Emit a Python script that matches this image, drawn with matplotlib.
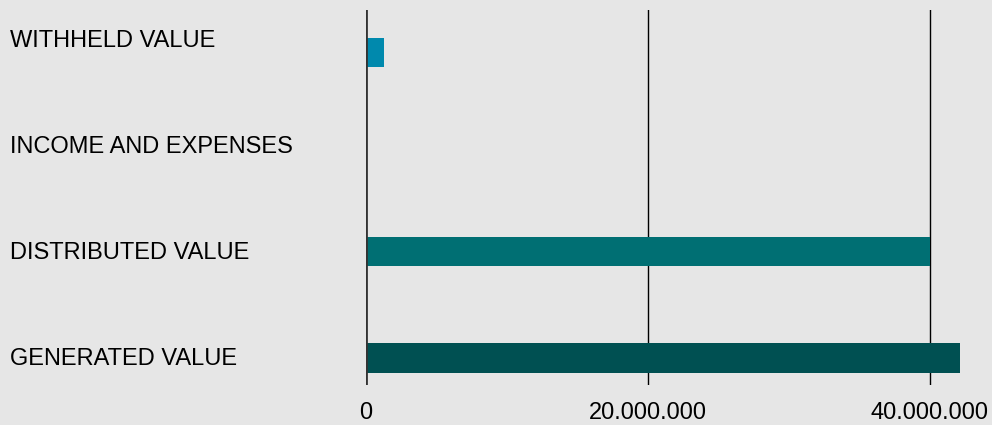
import matplotlib
matplotlib.use("Agg")
import matplotlib.pyplot as plt
from matplotlib.ticker import FuncFormatter

# Values (bottom to top)
categories = ["GENERATED VALUE", "DISTRIBUTED VALUE", "INCOME AND EXPENSES", "WITHHELD VALUE"]
values = [42.1e6, 40.0e6, 0, 1.3e6]
colors = ["#005052", "#006f73", "#006f73", "#0089ad"]
xticks = [0, 20e6, 40e6]

plt.rcParams["font.family"] = ["Liberation Sans", "DejaVu Sans"]

fig = plt.figure(figsize=(9.92, 4.25), dpi=100, facecolor="#e6e6e6")
ax = fig.add_axes([366 / 992, 40 / 425, (962.4 - 366) / 992, 375 / 425])
ax.set_facecolor("#e6e6e6")

pos = list(range(len(categories)))
# the withheld bar sits a little below its label in the original
offsets = [-0.01, -0.01, 0, -0.13]
ax.barh([p + o for p, o in zip(pos, offsets)], values, height=0.275,
        color=colors, zorder=2)

ax.set_xlim(0, 42.3e6)
ax.set_ylim(-0.264, 3.267)

ax.set_xticks(xticks)
ax.xaxis.set_major_formatter(FuncFormatter(lambda v, p: f"{int(v):,}".replace(",", ".")))
ax.tick_params(axis="x", length=0, pad=12, labelsize=17, colors="black")
ax.set_yticks(pos)
ax.set_yticklabels(categories)
ax.tick_params(axis="y", length=0, labelsize=17)
for lab in ax.get_yticklabels():
    lab.set_horizontalalignment("left")
    lab.set_x(-356 / (962.4 - 366) + 0.0085)

for s in ax.spines.values():
    s.set_visible(False)

for t in xticks[1:]:
    ax.axvline(t, color="black", lw=1, zorder=1)
ax.axvline(0, color="#333333", lw=2, zorder=3)

fig.savefig("out.png", dpi=100, facecolor=fig.get_facecolor())
